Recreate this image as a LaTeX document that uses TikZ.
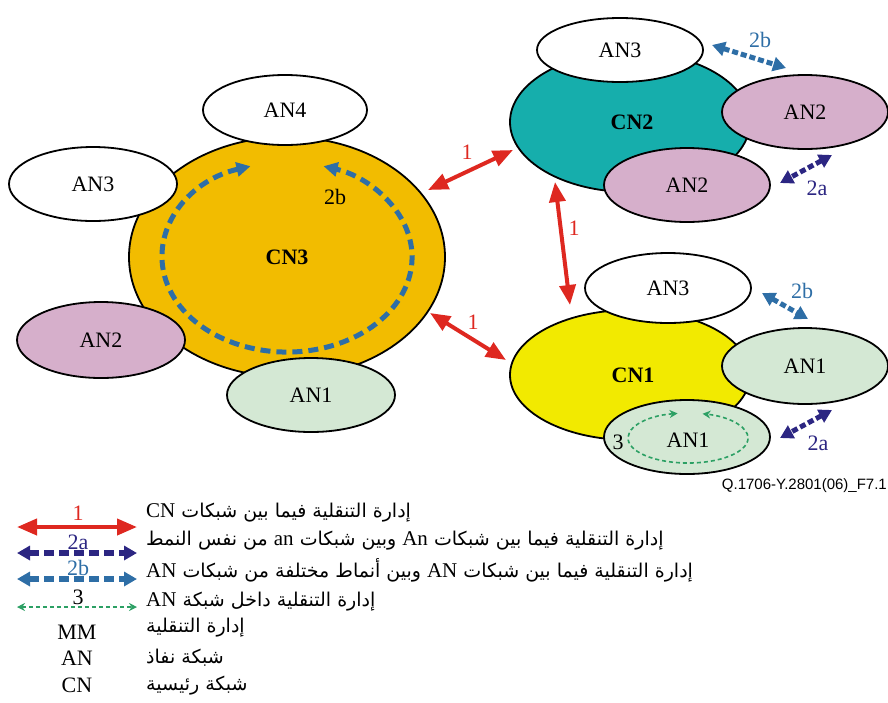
\documentclass[tikz,border=0pt]{standalone}
\usepackage{fontspec}
\setmainfont{Liberation Serif}
\newfontfamily\arabicfont[Script=Arabic]{DejaVu Sans}
\newfontfamily\idfont{Liberation Sans}
\TeXXeTstate=1
\usetikzlibrary{shapes.geometric,arrows.meta}

\definecolor{cnorange}{RGB}{242,188,0}
\definecolor{cnteal}{RGB}{22,174,172}
\definecolor{cnyellow}{RGB}{242,234,0}
\definecolor{anpink}{RGB}{214,175,203}
\definecolor{angreen}{RGB}{212,232,212}
\definecolor{mmred}{RGB}{222,40,32}
\definecolor{mmindigo}{RGB}{44,38,130}
\definecolor{mmblue}{RGB}{46,110,166}
\definecolor{mmgreen}{RGB}{44,160,100}

% Latin words inside a right-to-left Arabic line
\newcommand\latw[1]{{\rmfamily\fontsize{21}{24}\selectfont\beginL #1\endL}}

\tikzset{
  net/.style={ellipse, draw=black, line width=1.8pt, inner sep=0pt,
    font=\fontsize{22}{26}\selectfont},
  corenet/.style={net, minimum width=240pt, minimum height=134pt},
  accnet/.style={net, minimum width=166pt, minimum height=72pt},
  lbl/.style={inner sep=0pt, font=\fontsize{22}{26}\selectfont},
  boldlbl/.style={lbl, font=\fontsize{22}{26}\selectfont\bfseries},
  mmone/.style={draw=mmred, line width=4pt,
    {Triangle[length=20pt,width=16pt]}-{Triangle[length=20pt,width=16pt]}},
  mmtwoa/.style={draw=mmindigo, line width=5pt, dash pattern=on 6pt off 3pt,
    {Triangle[length=13pt,width=14pt]}-{Triangle[length=13pt,width=14pt]}},
  mmtwob/.style={draw=mmblue, line width=5pt, dash pattern=on 6pt off 3pt,
    {Triangle[length=13pt,width=14pt]}-{Triangle[length=13pt,width=14pt]}},
  legtwoa/.style={mmtwoa, line width=6pt, dash pattern=on 10pt off 5pt},
  legtwob/.style={mmtwob, line width=6pt, dash pattern=on 10pt off 5pt},
  loopb/.style={draw=mmblue, line width=5pt, dash pattern=on 10pt off 6pt,
    {Triangle[length=14pt,width=14pt]}-{Triangle[length=14pt,width=14pt]}},
  mmthree/.style={draw=mmgreen, line width=1.6pt, dash pattern=on 4pt off 3pt,
    {Stealth[length=8pt,width=8pt]}-{Stealth[length=8pt,width=8pt]}},
  arline/.style={anchor=west, inner sep=0pt, font=\arabicfont\fontsize{19}{23}\selectfont},
}

\begin{document}
\begin{tikzpicture}[x=1pt,y=-1pt]
\useasboundingbox (0,0) rectangle (888,702);

% ---- core network CN3 and its access networks
\node[net, fill=cnorange, minimum width=316pt, minimum height=240pt] (cn3) at (287,257) {\bfseries CN3};
\coordinate (loopstart) at (250.5,166.2);
\draw[loopb] (loopstart) arc[start angle=253, end angle=-73, x radius=125, y radius=95];
\node[lbl] (cn3lbl) at (335,197) {2b};
\node[accnet, fill=white, minimum width=164pt, minimum height=70pt] (an4) at (285,110) {AN4};
\node[accnet, fill=white, minimum width=168pt, minimum height=74pt] (cn3an3) at (93,184) {AN3};
\node[accnet, fill=anpink, minimum width=168pt, minimum height=76pt] (cn3an2) at (101,340) {AN2};
\node[accnet, fill=angreen, minimum width=168pt, minimum height=74pt] (cn3an1) at (311,395) {AN1};

% ---- core network CN2
\node[corenet, fill=cnteal, minimum height=140pt] (cn2) at (630,122) {};
\node[boldlbl] (cn2txt) at (632,122) {CN2};
\node[accnet, fill=white, minimum height=64pt] (cn2an3) at (620,50) {AN3};
\node[accnet, fill=anpink, minimum height=74pt] (cn2an2a) at (805,112) {AN2};
\node[accnet, fill=anpink, minimum height=74pt] (cn2an2b) at (687,185) {AN2};

% ---- core network CN1
\node[corenet, fill=cnyellow, minimum height=130pt] (cn1) at (630,375) {};
\node[boldlbl] (cn1txt) at (633,375) {CN1};
\node[accnet, fill=white, minimum height=70pt] (cn1an3) at (668,288) {AN3};
\node[accnet, fill=angreen, minimum height=76pt] (cn1an1a) at (805,366) {AN1};
\node[accnet, fill=angreen, minimum height=74pt] (cn1an1b) at (687,437) {};
\node[lbl] (cn1an1txt) at (688,440) {AN1};
\coordinate (gloopstart) at (677.6,413.4);
\draw[mmthree] (gloopstart) arc[start angle=260, end angle=-76, x radius=60, y radius=25];
\node[lbl] (threelbl) at (618,442) {3};

% ---- inter-CN mobility management (1)
\coordinate (ra1) at (428,190); \coordinate (ra2) at (513,150);
\coordinate (rb1) at (430,313); \coordinate (rb2) at (506,360);
\coordinate (rc1) at (555,182); \coordinate (rc2) at (570,305);
\draw[mmone] (ra1) -- (ra2);
\draw[mmone] (rb1) -- (rb2);
\draw[mmone] (rc1) -- (rc2);
\node[lbl, text=mmred] (one1) at (467,152) {1};
\node[lbl, text=mmred] (one2) at (473,322) {1};
\node[lbl, text=mmred] (one3) at (574,228) {1};

% ---- inter-AN mobility management (2a, 2b)
\coordinate (ba1) at (712,45);  \coordinate (ba2) at (786,68);
\coordinate (bb1) at (762,293); \coordinate (bb2) at (808,319);
\coordinate (ia1) at (832,155); \coordinate (ia2) at (780,183);
\coordinate (ib1) at (832,410); \coordinate (ib2) at (780,438);
\draw[mmtwob] (ba1) -- (ba2);
\draw[mmtwob] (bb1) -- (bb2);
\draw[mmtwoa] (ia1) -- (ia2);
\draw[mmtwoa] (ib1) -- (ib2);
\node[lbl, text=mmblue] (tb1) at (760,40) {2b};
\node[lbl, text=mmblue] (tb2) at (802,291) {2b};
\node[lbl, text=mmindigo] (ta1) at (817,188) {2a};
\node[lbl, text=mmindigo] (ta2) at (818,443) {2a};

% ---- figure identifier
\node[anchor=east, inner sep=0pt, font=\idfont\fontsize{15}{18}\selectfont] (figid) at (887,486) {Q.1706-Y.2801(06)\_F7.1};

% ---- legend
\coordinate (l1a) at (17,527); \coordinate (l1b) at (137,527);
\coordinate (l2a) at (17,553); \coordinate (l2b) at (137,553);
\coordinate (l3a) at (17,579); \coordinate (l3b) at (137,579);
\coordinate (l4a) at (17,607); \coordinate (l4b) at (137,607);
\draw[mmone] (l1a) -- (l1b);
\draw[legtwoa] (l2a) -- (l2b);
\draw[legtwob] (l3a) -- (l3b);
\draw[mmthree] (l4a) -- (l4b);
\node[lbl, text=mmred] (k1) at (78,513) {1};
\node[lbl, text=mmindigo] (k2) at (78,542) {2a};
\node[lbl, text=mmblue] (k3) at (78,568) {2b};
\node[lbl] (k4) at (78,597) {3};
\node[lbl] (k5) at (77,632) {MM};
\node[lbl] (k6) at (77,658) {AN};
\node[lbl] (k7) at (77,685) {CN};

\node[arline] (d1) at (146,513) {\beginR إدارة التنقلية فيما بين شبكات \latw{CN}\endR};
\node[arline] (d2) at (146,541) {\beginR إدارة التنقلية فيما بين شبكات \latw{An} وبين شبكات \latw{an} من نفس النمط\endR};
\node[arline] (d3) at (146,570) {\beginR إدارة التنقلية فيما بين شبكات \latw{AN} وبين أنماط مختلفة من شبكات \latw{AN}\endR};
\node[arline] (d4) at (146,602) {\beginR إدارة التنقلية داخل شبكة \latw{AN}\endR};
\node[arline] (d5) at (146,628) {\beginR إدارة التنقلية\endR};
\node[arline] (d6) at (146,658) {\beginR شبكة نفاذ\endR};
\node[arline] (d7) at (146,686) {\beginR شبكة رئيسية\endR};
\end{tikzpicture}
\end{document}
